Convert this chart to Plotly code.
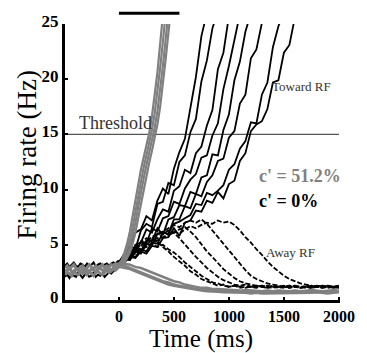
import plotly.graph_objects as go

# ---------------- data ----------------
T_PRE = [-490, -470, -450, -430, -410, -390, -370, -350, -330, -310, -290, -270, -250,
         -230, -210, -190, -170, -150, -130, -110, -90, -70, -50, -30, -10, 0]
BASE_GRAY = [
    [2.9, 3.1, 2.8, 3.0, 3.2, 2.9, 2.7, 3.0, 3.1, 2.8, 2.9, 3.2, 3.0, 2.8, 3.1, 2.9, 3.0, 3.2, 2.9, 3.1, 3.0, 3.2, 3.1, 3.3, 3.2, 3.3],
    [2.3, 2.5, 2.4, 2.2, 2.6, 2.4, 2.3, 2.5, 2.4, 2.6, 2.3, 2.5, 2.4, 2.2, 2.5, 2.6, 2.4, 2.3, 2.5, 2.7, 2.5, 2.6, 2.8, 2.7, 2.9, 3.0],
    [2.6, 2.7, 2.9, 2.6, 2.5, 2.8, 2.7, 2.6, 2.8, 2.5, 2.7, 2.6, 2.8, 2.7, 2.6, 2.8, 2.9, 2.7, 2.6, 2.8, 2.9, 2.7, 2.9, 3.0, 3.0, 3.1],
]
BASE_BLACK = [
    [2.1, 2.3, 2.0, 2.4, 2.2, 2.1, 2.5, 2.2, 2.0, 2.3, 2.4, 2.1, 2.2, 2.5, 2.1, 2.3, 2.2, 2.4, 2.1, 2.3, 2.5, 2.4, 2.6, 2.8, 2.9, 3.2],
    [3.1, 3.3, 3.0, 3.2, 3.4, 3.1, 3.0, 3.3, 3.2, 3.0, 3.3, 3.1, 3.2, 3.4, 3.0, 3.2, 3.3, 3.1, 3.2, 3.3, 3.1, 3.3, 3.4, 3.3, 3.5, 3.5],
]

# coherence 51.2%, toward RF (gray), sampled every 25 ms from 0
T_FAST = [0, 25, 50, 75, 100, 125, 150, 175, 200, 225, 250, 275, 300, 325, 350, 375, 400, 425, 450, 475]
GRAY_TOWARD = [
    [3.3, 3.6, 4.3, 5.1, 6.2, 7.6, 9.2, 10.6, 11.8, 12.9, 14.0, 15.1, 16.6, 18.4, 20.6, 23.2, 25.8, 27.0],
    [3.2, 3.4, 3.9, 4.6, 5.4, 6.6, 8.0, 9.5, 10.8, 12.0, 13.1, 14.2, 15.4, 16.9, 18.8, 21.0, 23.4, 25.9, 27.0],
    [3.1, 3.3, 3.6, 4.1, 4.8, 5.8, 7.0, 8.4, 9.8, 11.0, 12.2, 13.3, 14.4, 15.6, 17.1, 19.0, 21.2, 23.6, 26.0, 27.0],
    [3.0, 3.2, 3.4, 3.8, 4.3, 5.1, 6.1, 7.4, 8.7, 10.0, 11.3, 12.4, 13.5, 14.6, 15.9, 17.5, 19.5, 21.8, 24.2, 26.5],
]

# sampled every 50 ms from 0 to 2000
T_POST = [0, 50, 100, 150, 200, 250, 300, 350, 400, 450, 500, 550, 600, 650, 700, 750, 800, 850,
          900, 950, 1000, 1050, 1100, 1150, 1200, 1250, 1300, 1350, 1400, 1450, 1500, 1550, 1600,
          1650, 1700, 1750, 1800, 1850, 1900, 1950, 2000]

GRAY_AWAY = [
    [3.2, 3.1, 2.9, 2.7, 2.5, 2.3, 2.1, 1.9, 1.7, 1.6, 1.4, 1.3, 1.2, 1.1, 1.0, 1.0, 0.9, 0.9, 0.85, 0.8, 0.8,
     0.8, 0.75, 0.8, 0.75, 0.7, 0.75, 0.7, 0.7, 0.75, 0.7, 0.7, 0.75, 0.7, 0.8, 0.75, 0.7, 0.75, 0.8, 0.75, 0.8],
    [3.0, 2.9, 2.8, 2.6, 2.4, 2.2, 2.0, 1.8, 1.6, 1.4, 1.3, 1.2, 1.1, 1.0, 0.9, 0.85, 0.8, 0.8, 0.75, 0.7, 0.7,
     0.65, 0.7, 0.65, 0.6, 0.65, 0.6, 0.6, 0.65, 0.6, 0.65, 0.6, 0.6, 0.65, 0.6, 0.65, 0.7, 0.65, 0.6, 0.65, 0.7],
    [3.3, 3.3, 3.2, 3.0, 2.9, 2.7, 2.5, 2.3, 2.1, 1.9, 1.7, 1.6, 1.4, 1.3, 1.2, 1.1, 1.1, 1.0, 1.0, 0.95, 0.9,
     0.9, 0.85, 0.9, 0.85, 0.85, 0.8, 0.85, 0.8, 0.85, 0.8, 0.8, 0.85, 0.8, 0.85, 0.9, 0.85, 0.8, 0.85, 0.9, 0.85],
]

# coherence 0%, toward RF (black)
BLACK_TOWARD = [
    [3.4, 4.2, 4.8, 6.1, 6.4, 7.6, 7.2, 9.0, 10.1, 9.6, 11.9, 13.4, 14.6, 17.6, 20.2, 23.9, 26.0],
    [3.5, 3.9, 4.9, 4.6, 6.3, 6.9, 6.6, 8.7, 8.9, 10.6, 10.4, 12.5, 13.1, 15.2, 16.4, 19.8, 21.7, 24.6, 26.2],
    [3.3, 4.0, 3.9, 5.0, 5.2, 6.4, 6.1, 7.3, 8.2, 8.0, 9.9, 10.3, 11.8, 11.5, 13.3, 13.9, 15.8, 17.2, 20.9, 22.4, 25.7],
    [3.5, 3.6, 4.4, 4.3, 5.3, 5.1, 6.5, 6.2, 7.4, 7.6, 8.9, 8.7, 10.1, 10.9, 11.4, 12.9, 13.1, 14.9, 16.0, 19.1, 21.2,
     23.6, 25.9],
    [3.4, 3.9, 3.7, 4.6, 4.4, 5.4, 5.3, 6.5, 5.9, 7.3, 7.5, 8.6, 8.5, 9.8, 9.6, 11.1, 11.3, 13.2, 13.1, 15.4, 16.8,
     19.9, 21.6, 24.3, 26.0],
    [3.3, 3.7, 3.6, 4.4, 4.2, 5.1, 4.9, 6.0, 6.1, 6.0, 7.3, 7.3, 8.5, 8.3, 9.6, 9.4, 10.7, 11.3, 12.6, 12.8, 14.7,
     15.3, 17.8, 18.6, 21.9, 22.7, 25.1, 26.0],
    [3.4, 3.5, 4.0, 3.9, 4.6, 4.4, 5.2, 5.1, 6.1, 6.0, 6.9, 7.1, 7.4, 7.7, 8.7, 8.6, 9.7, 9.5, 9.9, 10.4, 11.8,
     12.3, 13.7, 14.4, 16.1, 16.0, 18.6, 19.7, 22.9, 24.8, 26.0],
    [3.5, 3.4, 3.9, 3.8, 4.4, 4.2, 4.9, 4.8, 5.6, 5.7, 6.5, 5.8, 7.0, 7.2, 8.1, 8.0, 9.0, 8.8, 9.8, 9.2, 10.5,
     10.8, 12.6, 13.3, 15.3, 15.9, 16.2, 17.3, 19.7, 19.9, 22.4, 23.1, 25.6],
]

# coherence 0%, away from RF (black)
BLACK_AWAY = [
    [3.4, 3.7, 4.3, 4.8, 5.2, 5.6, 5.5, 5.3, 4.8, 4.4, 3.9, 3.5, 3.1, 2.6, 2.3, 1.9, 1.7, 1.5, 1.3, 1.4, 1.2,
     1.3, 1.1, 1.2, 1.2, 1.1, 1.3, 1.2, 1.1, 1.2, 1.3, 1.1, 1.2, 1.2, 1.1, 1.3, 1.2, 1.1, 1.2, 1.2, 1.1],
    [3.3, 3.6, 4.1, 4.5, 4.9, 5.3, 5.6, 5.9, 6.2, 5.9, 6.1, 5.6, 5.0, 4.5, 3.9, 3.4, 2.9, 2.5, 2.1, 1.8, 1.6,
     1.4, 1.3, 1.4, 1.2, 1.3, 1.2, 1.1, 1.3, 1.2, 1.2, 1.1, 1.3, 1.2, 1.2, 1.1, 1.2, 1.3, 1.2, 1.1, 1.2],
    [3.4, 3.7, 4.0, 4.4, 4.7, 5.0, 5.4, 5.6, 6.0, 6.3, 6.1, 6.4, 6.6, 6.2, 5.7, 5.0, 4.4, 3.9, 3.3, 2.8, 2.4,
     2.0, 1.7, 1.5, 1.4, 1.3, 1.2, 1.3, 1.2, 1.1, 1.2, 1.3, 1.2, 1.1, 1.2, 1.2, 1.3, 1.2, 1.1, 1.2, 1.3],
    [3.5, 3.8, 4.2, 4.6, 5.0, 5.3, 5.7, 6.0, 6.2, 6.5, 6.8, 6.6, 7.0, 7.2, 7.0, 7.3, 6.9, 6.3, 5.7, 5.0, 4.4,
     3.8, 3.2, 2.7, 2.2, 1.9, 1.7, 1.5, 1.4, 1.3, 1.2, 1.3, 1.2, 1.1, 1.3, 1.2, 1.2, 1.1, 1.3, 1.2, 1.2],
    [3.4, 3.6, 3.9, 4.2, 4.6, 4.8, 5.1, 5.4, 5.7, 5.9, 6.2, 6.0, 6.4, 6.7, 6.5, 6.8, 7.0, 6.9, 7.2, 7.0, 7.1,
     6.8, 6.3, 5.7, 5.2, 4.6, 4.1, 3.5, 3.0, 2.6, 2.2, 1.9, 1.7, 1.5, 1.4, 1.3, 1.2, 1.3, 1.2, 1.2, 1.1],
    [3.3, 3.5, 3.9, 4.3, 4.6, 4.9, 5.1, 4.8, 5.0, 4.6, 4.3, 3.9, 3.4, 3.0, 2.6, 2.2, 1.9, 1.6, 1.5, 1.3, 1.2,
     1.3, 1.2, 1.1, 1.2, 1.2, 1.3, 1.1, 1.2, 1.2, 1.1, 1.2, 1.3, 1.1, 1.2, 1.1, 1.2, 1.2, 1.3, 1.1, 1.2],
]

THRESHOLD = 15
X_TICKS = [0, 500, 1000, 1500, 2000]
Y_TICKS = [0, 5, 10, 15, 20, 25]
STIM_BAR = [0, 550]

GRAY = "#808080"
SERIF = "Liberation Serif, Times New Roman, serif"

# ---------------- figure ----------------
fig = go.Figure()


def add(x, y, color, width, dash="solid"):
    fig.add_trace(go.Scatter(x=x[:len(y)], y=y, mode="lines",
                             line=dict(color=color, width=width, dash=dash),
                             showlegend=False, hoverinfo="skip"))


fig.add_trace(go.Scatter(x=[-490, 2000], y=[THRESHOLD, THRESHOLD], mode="lines",
                         line=dict(color="#555555", width=1.3), showlegend=False, hoverinfo="skip"))

for ys in BASE_BLACK:
    add(T_PRE, ys, "black", 2)
for ys in BLACK_AWAY:
    add(T_POST, ys, "black", 1.8, dash="5px,2px")
for ys in BLACK_TOWARD:
    add(T_POST, ys, "black", 1.8)
for ys in BASE_GRAY:
    add(T_PRE, ys, GRAY, 3)
for ys in GRAY_AWAY:
    add(T_POST, ys, GRAY, 2.5)
for ys in GRAY_TOWARD:
    add(T_FAST, ys, GRAY, 2.2)

fig.add_shape(type="line", xref="x", yref="paper", x0=STIM_BAR[0], x1=STIM_BAR[1],
              y0=1.0387, y1=1.0387, line=dict(color="black", width=3))

ann = [
    dict(text="Threshold", x=-384, y=16.0, size=18, color="#333333", bold=False),
    dict(text="Toward RF", x=1376, y=19.3, size=13, color="#333333", bold=False),
    dict(text="c' = 51.2%", x=1253, y=11.2, size=18, color=GRAY, bold=True),
    dict(text="c' = 0%", x=1253, y=9.0, size=18, color="black", bold=True),
    dict(text="Away RF", x=1315, y=4.3, size=13, color="#333333", bold=False),
]
for a in ann:
    fig.add_annotation(x=a["x"], y=a["y"], xref="x", yref="y", text=a["text"], showarrow=False,
                       xanchor="left", yanchor="middle",
                       font=dict(family=SERIF, size=a["size"], color=a["color"],
                                 weight="bold" if a["bold"] else "normal"))

fig.add_annotation(text="Time (ms)", xref="paper", yref="paper", x=0.493, y=-0.142,
                   xanchor="center", yanchor="middle", showarrow=False,
                   font=dict(family=SERIF, size=25, color="black"))
fig.add_annotation(text="Firing rate (Hz)", xref="paper", yref="paper", x=-0.137, y=0.525,
                   xanchor="center", yanchor="middle", showarrow=False, textangle=-90,
                   font=dict(family=SERIF, size=27, color="black"))

fig.update_layout(
    width=367, height=353,
    margin=dict(l=65, r=18, t=16, b=53),
    paper_bgcolor="white", plot_bgcolor="white",
    xaxis=dict(range=[-490, 2010], tickvals=X_TICKS, ticktext=[str(v) for v in X_TICKS],
               showgrid=False, zeroline=False, showline=True, linecolor="black", linewidth=3,
               ticks="inside", ticklen=3, tickwidth=2, tickcolor="black",
               tickfont=dict(family=SERIF, size=16, color="black", weight="bold")),
    yaxis=dict(range=[0, 25], tickvals=Y_TICKS, ticktext=[str(v) for v in Y_TICKS],
               showgrid=False, zeroline=False, showline=True, linecolor="black", linewidth=3,
               ticks="inside", ticklen=3, tickwidth=2, tickcolor="black",
               ticklabelshift=-3, ticklabelstandoff=0,
               tickfont=dict(family=SERIF, size=17, color="black", weight="bold")),
)

fig.write_html("out.html", config={"displayModeBar": False},
               post_script="document.body.style.margin='0';")
